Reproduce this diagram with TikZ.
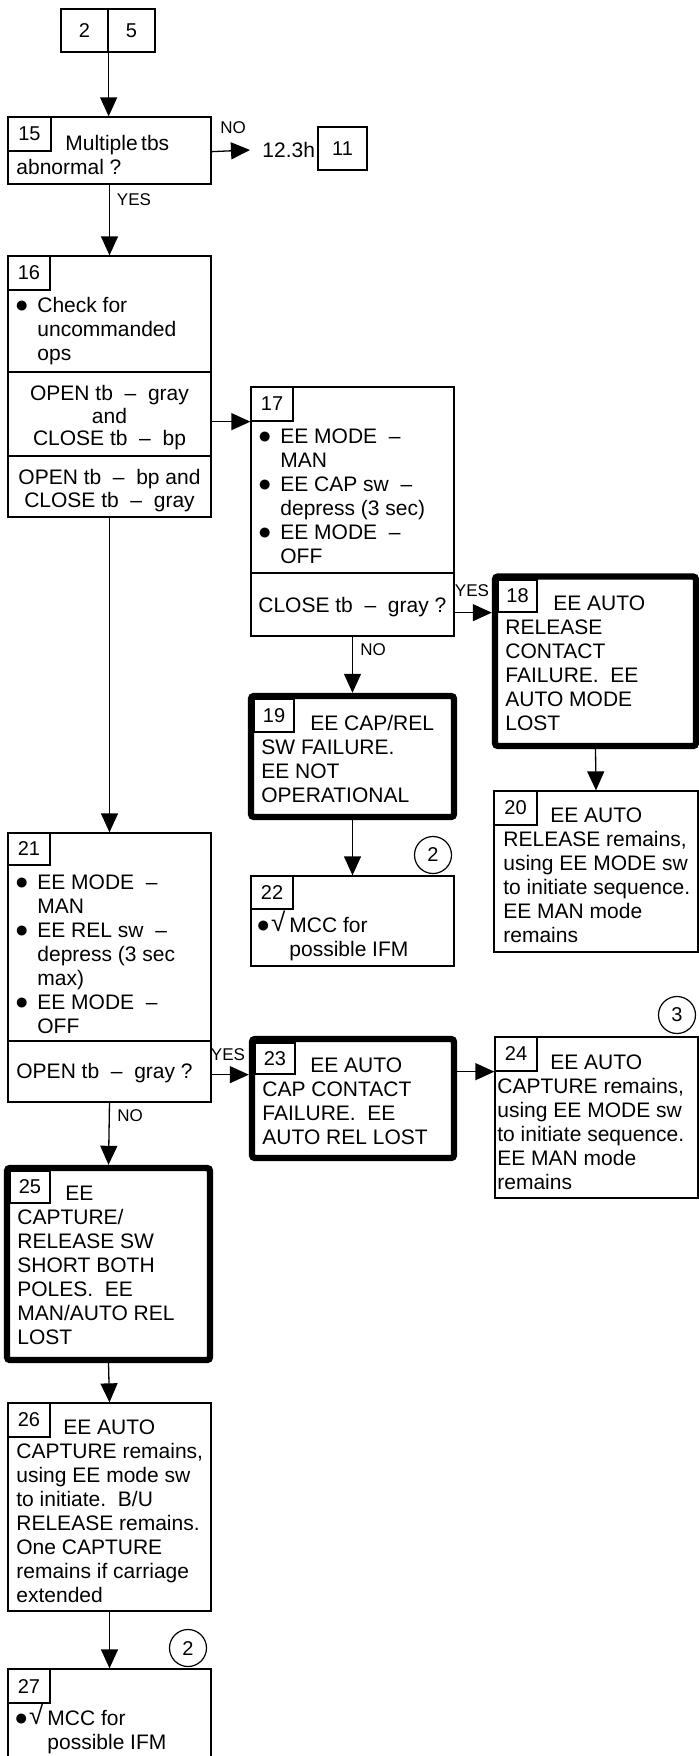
\documentclass[tikz,border=0pt]{standalone}
\usepackage{fontspec}
\setmainfont{Liberation Sans}
\usetikzlibrary{arrows.meta,fit}
\newcommand\bul{\makebox[10pt][l]{\makebox[4.5pt][c]{\smash{\fontsize{11.5}{12}\selectfont ●}}}}
\newcommand\ind{\hspace*{10pt}}
\newcommand\chk{\makebox[15.25pt][l]{\makebox[4.5pt][c]{\smash{\fontsize{11.5}{12}\selectfont ●}}\hspace*{1.6pt}\smash{\raisebox{0.5pt}{\fontsize{13}{12}\selectfont √}}}}
\begin{document}
\begin{tikzpicture}[x=0.5pt,y=-0.5pt,
 bx/.style={draw,line width=0.65pt,inner sep=0pt},
 tbx/.style={draw,line width=3.2pt,inner sep=0pt,rounded corners=1.5pt},
 nb/.style={draw,line width=0.65pt,inner sep=0pt},
 numf/.style={inner sep=0pt,font=\fontsize{10}{12}\selectfont},
 txt/.style={inner sep=0pt,anchor=north west,align=left,font=\fontsize{10.5}{12}\selectfont},
 ctxt/.style={inner sep=0pt,anchor=north,align=center},
 lbl/.style={inner sep=0pt,font=\fontsize{8.5}{10}\selectfont},
 arr/.style={line width=0.65pt,-{Triangle[length=9.5pt,width=8.5pt]}},
 circ/.style={draw,circle,line width=0.6pt,minimum size=18.5pt,inner sep=0pt,font=\fontsize{10}{12}\selectfont},
 dv/.style={line width=0.65pt}]
\useasboundingbox (0,0) rectangle (699,1756);
\clip (0,0) rectangle (699,1756);
% top
\node[nb,fit={(61,9) (108,52)},label={[numf,name=l2]center:2}] (n2) {};
\node[nb,fit={(108,9) (155,52)},label={[numf,name=l5]center:5}] (n5) {};
% 15
\node[bx,fit={(8,117) (211,184)}] (b15) {};
\node[nb,fit={(8,117) (51,151)},label={[numf,name=l15]center:15}] (n15) {};
\node[txt] (t15) at (16,133.7) {\strut\hspace*{24.5pt}Multiple\,tbs\\abnormal ?};
\node[inner xsep=6pt,inner ysep=0pt,anchor=west,font=\fontsize{10.5}{12}\selectfont] (t123) at (250,150) {12.3h};
\node[nb,fit={(318,127) (367,170)},label={[numf,name=l11]center:11}] (n11) {};
% 16
\node[bx,fit={(8,256) (211,517)}] (b16) {};
\node[nb,fit={(8,256) (50,290)},label={[numf,name=l16]center:16}] (n16) {};
\draw[dv] (8,372) -- (211,372);
\draw[dv] (8,456) -- (211,456);
\node[txt] (t16a) at (17,295.7) {\strut\bul Check for\\\ind uncommanded\\\ind ops};
\node[ctxt,font=\fontsize{10.5}{11.25}\selectfont] (t16b) at (109.5,384.75) {\strut OPEN tb\ \ –\ \ gray\\and\\CLOSE tb\ \ –\ \ bp};
\node[ctxt,font=\fontsize{10.5}{11.5}\selectfont] (t16c) at (109.5,468.4) {\strut OPEN tb\ \ –\ \ bp and\\CLOSE tb\ \ –\ \ gray};
% 17
\node[bx,fit={(251,387) (454,636)}] (b17) {};
\node[nb,fit={(251,387) (293,421)},label={[numf,name=l17]center:17}] (n17) {};
\draw[dv] (251,573) -- (454,573);
\node[txt] (t17a) at (260,426.7) {\strut\bul EE MODE\ \ –\\\ind MAN\\\bul EE CAP sw\ \ –\\\ind depress (3 sec)\\\bul EE MODE\ \ –\\\ind OFF};
\node[txt] (t17b) at (258,595.7) {\strut CLOSE tb\ \ –\ \ gray ?};
% 18
\node[tbx,fit={(495,576.5) (696,746)}] (b18) {};
\node[nb,fit={(498,580) (537,612)},label={[numf,name=l18]center:18}] (n18) {};
\node[txt] (t18) at (505,593.7) {\strut\hspace*{24pt}EE AUTO\\RELEASE\\CONTACT\\FAILURE.\ \ EE\\AUTO MODE\\LOST};
% 19
\node[tbx,fit={(251,696) (454,817)}] (b19) {};
\node[nb,fit={(254,699) (294,732)},label={[numf,name=l19]center:19}] (n19) {};
\node[txt] (t19) at (261,713.7) {\strut\hspace*{24.5pt}EE CAP/REL\\SW FAILURE.\\EE NOT\\OPERATIONAL};
% 20
\node[bx,fit={(494,791) (698,952)}] (b20) {};
\node[nb,fit={(494,791) (537,825)},label={[numf,name=l20]center:20}] (n20) {};
\node[txt] (t20) at (503,805.7) {\strut\hspace*{23.5pt}EE AUTO\\RELEASE remains,\\using EE MODE sw\\to initiate sequence.\\EE MAN mode\\remains};
% 21
\node[bx,fit={(8,833) (211,1102)}] (b21) {};
\node[nb,fit={(8,833) (50,865)},label={[numf,name=l21]center:21}] (n21) {};
\draw[dv] (8,1041) -- (211,1041);
\node[txt] (t21a) at (17,872.7) {\strut\bul EE MODE\ \ –\\\ind MAN\\\bul EE REL sw\ \ –\\\ind depress (3 sec\\\ind max)\\\bul EE MODE\ \ –\\\ind OFF};
\node[txt] (t21b) at (16,1061.7) {\strut OPEN tb\ \ –\ \ gray ?};
% 22
\node[bx,fit={(251,876) (454,966)}] (b22) {};
\node[nb,fit={(251,876) (293,909)},label={[numf,name=l22]center:22}] (n22) {};
\node[txt] (t22) at (258.5,915.7) {\strut\chk MCC for\\\hspace*{15.25pt}possible IFM};
\node[circ] (c22) at (433,855) {2};
% 23
\node[tbx,fit={(252,1039) (454,1158)}] (b23) {};
\node[nb,fit={(255,1043) (295,1074)},label={[numf,name=l23]center:23}] (n23) {};
\node[txt] (t23) at (262,1055.7) {\strut\hspace*{24pt}EE AUTO\\CAP CONTACT\\FAILURE.\ \ EE\\AUTO REL LOST};
% 24
\node[bx,fit={(495,1037) (698,1198)}] (b24) {};
\node[nb,fit={(495,1037) (537,1071)},label={[numf,name=l24]center:24}] (n24) {};
\node[txt] (t24) at (497,1052.7) {\strut\hspace*{26.5pt}EE AUTO\\CAPTURE remains,\\using EE MODE sw\\to initiate sequence.\\EE MAN mode\\remains};
\node[circ] (c24) at (677,1015) {3};
% 25
\node[tbx,fit={(7,1168) (210,1360)}] (b25) {};
\node[nb,fit={(10,1171) (50,1203)},label={[numf,name=l25]center:25}] (n25) {};
\node[txt] (t25) at (17,1183.7) {\strut\hspace*{24pt}EE\\CAPTURE/\\RELEASE SW\\SHORT BOTH\\POLES.\ \ EE\\MAN/AUTO REL\\LOST};
% 26
\node[bx,fit={(8,1403) (211,1611)}] (b26) {};
\node[nb,fit={(8,1403) (50,1437)},label={[numf,name=l26]center:26}] (n26) {};
\node[txt] (t26) at (16,1417.7) {\strut\hspace*{23.5pt}EE AUTO\\CAPTURE remains,\\using EE mode sw\\to initiate.\ \ B/U\\RELEASE remains.\\One CAPTURE\\remains if carriage\\extended};
% 27
\node[bx,fit={(8,1669) (211,1790)}] (b27) {};
\node[nb,fit={(8,1669) (50,1703)},label={[numf,name=l27]center:27}] (n27) {};
\node[txt] (t27) at (16.5,1708.7) {\strut\chk MCC for\\\hspace*{15.25pt}possible IFM};
\node[circ] (c27) at (188,1648) {2};
% labels
\node[lbl] (lno15) at (233,128) {NO};
\node[lbl] (lyes15) at (134,200) {YES};
\node[lbl] (lyes17) at (472,591) {YES};
\node[lbl] (lno17) at (373,650) {NO};
\node[lbl] (lyes21) at (228,1055) {YES};
\node[lbl] (lno21) at (130,1116) {NO};
% connectors
\draw[arr] (n2.south east) -- (n2.south east |- b15.north);
\draw[arr] (b15.east |- n15.south) -- (t123.west);
\draw[arr] (b15.south) -- (b16.north);
\draw[arr] (b16.east |- n17.south) -- (n17.south west);
\draw[arr] (b16.south) -- (b21.north);
\draw[arr] (b17.east |- n18.south) -- (b18.west |- n18.south);
\draw[arr] (b17.south) -- (b19.north);
\draw[arr] (b18.south) -- (b20.north);
\draw[arr] (b19.south) -- (b22.north);
\draw[arr] (b21.east |- n23.south) -- (b23.west |- n23.south);
\draw[arr] (b23.east |- n24.south) -- (b24.west |- n24.south);
\draw[arr] (b21.south) -- (b25.north);
\draw[arr] (b25.south) -- (b26.north);
\draw[arr] (b26.south) -- (b27.north);
\end{tikzpicture}
\end{document}
